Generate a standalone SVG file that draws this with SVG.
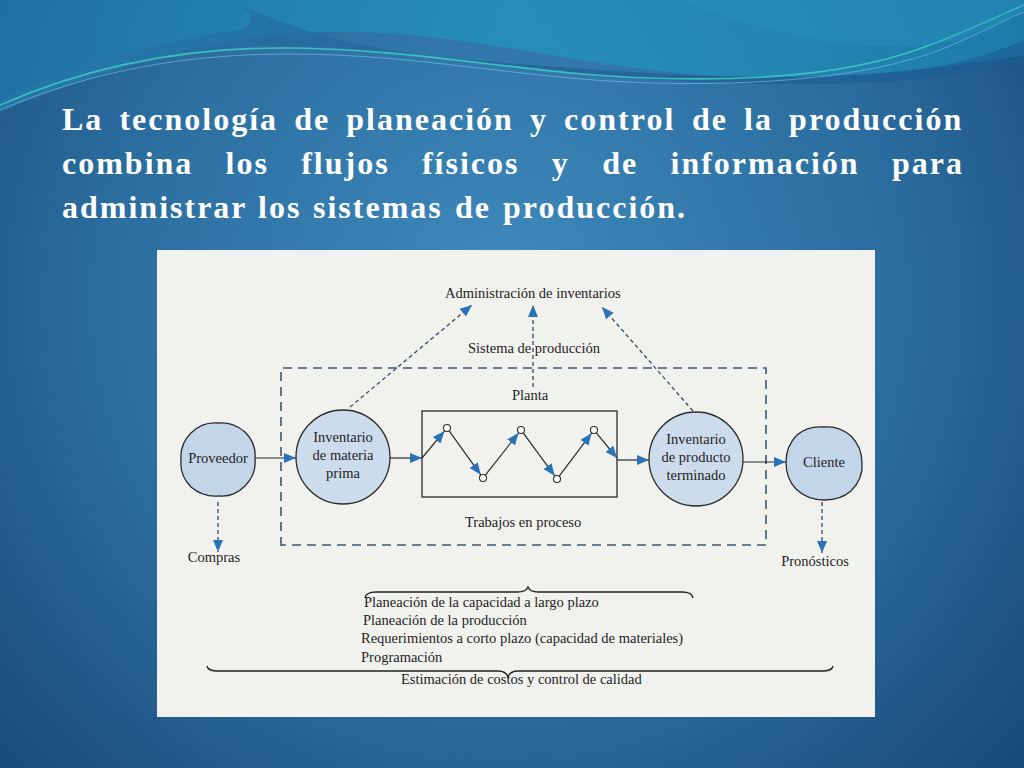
<svg xmlns="http://www.w3.org/2000/svg" width="1024" height="768" viewBox="0 0 1024 768">
<defs>
  <radialGradient id="bg" cx="500" cy="300" r="720" gradientUnits="userSpaceOnUse">
    <stop offset="0" stop-color="#3f8abd"/>
    <stop offset="0.55" stop-color="#2b6d9f"/>
    <stop offset="1" stop-color="#164775"/>
  </radialGradient>
  <linearGradient id="teal" x1="0" y1="0" x2="1" y2="0">
    <stop offset="0" stop-color="#1f78ab"/>
    <stop offset="0.5" stop-color="#2295bd"/>
    <stop offset="1" stop-color="#1f86b3"/>
  </linearGradient>
  <linearGradient id="band" x1="0" y1="0" x2="1" y2="0">
    <stop offset="0" stop-color="#2a79ad"/>
    <stop offset="0.5" stop-color="#1d5d92"/>
    <stop offset="1" stop-color="#1a5d93"/>
  </linearGradient>
  <marker id="ah" markerUnits="userSpaceOnUse" markerWidth="14" markerHeight="12" refX="12" refY="5" orient="auto">
    <path d="M0,0 L12,5 L0,10 Z" fill="#2a73b9"/>
  </marker>
  <style>
    .title{font-family:"Liberation Serif",serif;font-weight:bold;font-size:32px;fill:#ffffff;letter-spacing:2px}
    .t{font-family:"Liberation Serif",serif;font-size:14.5px;fill:#1e1e1e}
    .tc{font-family:"Liberation Serif",serif;font-size:14.5px;fill:#1e1e1e;text-anchor:middle}
    .solid{stroke:#2b2b2b;stroke-width:1.2;fill:none}
    .dash{stroke:#3e5870;stroke-width:1.4;fill:none;stroke-dasharray:4 3}
    .box{stroke:#3e5870;stroke-width:1.6;fill:none;stroke-dasharray:9 6}
    .node{fill:#cddcec;stroke:#2b2b2b;stroke-width:1.3}
    .blob{fill:#c3d5e9;stroke:#2b2b2b;stroke-width:1.3}
    .dot{fill:#ffffff;stroke:#2b2b2b;stroke-width:1.1}
    .brace{stroke:#222;stroke-width:1.3;fill:none}
  </style>
</defs>

<!-- background -->
<rect x="0" y="0" width="1024" height="768" fill="url(#bg)"/>
<path d="M0,0 H1024 V55 C930,70 840,80 720,76 C590,70 460,28 320,32 C200,36 80,80 0,110 Z" fill="url(#teal)" opacity="0.75"/>
<path d="M230,0 C290,30 370,52 470,60 C600,70 760,85 900,72 C960,66 1000,50 1024,40 V60 C960,78 880,86 760,84 C600,82 420,50 300,46 C180,42 80,80 0,112 V100 C90,60 170,38 240,30 C260,20 250,8 230,0 Z" fill="url(#band)" opacity="0.6"/>
<path d="M0,105 C80,70 170,48 280,48 C420,48 520,74 650,78 C770,82 860,72 930,45 C970,30 1000,15 1024,5" stroke="#3fd3c0" stroke-width="1.6" fill="none" opacity="0.8"/>
<path d="M0,110 C90,72 180,54 290,54 C420,54 520,79 650,83 C770,86 870,76 940,50 C975,36 1003,20 1024,12" stroke="#7fc3e6" stroke-width="1" fill="none" opacity="0.6"/>
<path d="M680,0 C760,30 860,60 960,40 C990,32 1010,20 1024,10 V0 Z" fill="#2a95c0" opacity="0.35"/>

<!-- title -->
<text class="title" y="130"><tspan x="62">La</tspan><tspan x="119.4">tecnología</tspan><tspan x="294.2">de</tspan><tspan x="346.3">planeación</tspan><tspan x="530">y</tspan><tspan x="564.1">control</tspan><tspan x="692">de</tspan><tspan x="744.1">la</tspan><tspan x="789.1">producción</tspan></text>
<text class="title" y="174"><tspan x="62">combina</tspan><tspan x="225.6">los</tspan><tspan x="301.2">flujos</tspan><tspan x="421.9">físicos</tspan><tspan x="551.8">y</tspan><tspan x="602.2">de</tspan><tspan x="670.5">información</tspan><tspan x="892">para</tspan></text>
<text class="title" y="218"><tspan x="62">administrar</tspan><tspan x="258">los</tspan><tspan x="313">sistemas</tspan><tspan x="455">de</tspan><tspan x="503">producción.</tspan></text>

<!-- panel -->
<rect x="157" y="250" width="718" height="467" fill="#f1f2ee"/>

<!-- dashed system boundary -->
<path class="box" d="M281,546 V368 H766 V545 H281"/>

<!-- connectors -->
<g id="connectors">
  <line class="solid" x1="255" y1="458" x2="296" y2="458" marker-end="url(#ah)"/>
  <line class="solid" x1="390" y1="458" x2="422" y2="458" marker-end="url(#ah)"/>
  <line class="solid" x1="617" y1="460" x2="649" y2="460" marker-end="url(#ah)"/>
  <line class="solid" x1="743" y1="462" x2="786" y2="462" marker-end="url(#ah)"/>
  <line class="solid" x1="422" y1="458" x2="444.4" y2="431.1" marker-end="url(#ah)"/>
  <line class="solid" x1="449.3" y1="431.2" x2="480.7" y2="474.8" marker-end="url(#ah)"/>
  <line class="solid" x1="485.5" y1="474.9" x2="518.5" y2="433.1" marker-end="url(#ah)"/>
  <line class="solid" x1="523.4" y1="433.2" x2="554.6" y2="475.8" marker-end="url(#ah)"/>
  <line class="solid" x1="559.4" y1="475.8" x2="591.6" y2="433.2" marker-end="url(#ah)"/>
  <line class="solid" x1="596.5" y1="433.1" x2="617" y2="458" marker-end="url(#ah)"/>
  <line class="dash" x1="350" y1="407" x2="472" y2="305" marker-end="url(#ah)"/>
  <line class="dash" x1="533" y1="387" x2="533" y2="305" marker-end="url(#ah)"/>
  <line class="dash" x1="693" y1="411" x2="602" y2="307" marker-end="url(#ah)"/>
  <line class="dash" x1="218" y1="502" x2="218" y2="552" marker-end="url(#ah)"/>
  <line class="dash" x1="822" y1="502" x2="822" y2="553" marker-end="url(#ah)"/>
</g>

<!-- nodes -->
<g id="proveedor">
  <path class="blob" d="M255,459 C256,469 252,479 245,486 C238,493 229,497 219,496 C208,497 198,493 191,487 C184,480 180,470 181,460 C180,449 184,440 191,433 C198,426 208,422 218,423 C229,422 238,426 245,432 C252,439 256,449 255,459 Z"/>
  <text class="tc" x="218" y="463">Proveedor</text>
</g>
<g id="inv-materia">
  <circle class="node" cx="343" cy="457" r="47"/>
  <text class="tc" x="343" y="442">Inventario</text>
  <text class="tc" x="343" y="460">de materia</text>
  <text class="tc" x="343" y="478">prima</text>
</g>
<g id="planta">
  <rect x="422" y="411" width="195" height="86" fill="none" stroke="#2b2b2b" stroke-width="1.3"/>
  <circle class="dot" cx="447" cy="428" r="3.5"/>
  <circle class="dot" cx="483" cy="478" r="3.5"/>
  <circle class="dot" cx="521" cy="430" r="3.5"/>
  <circle class="dot" cx="557" cy="479" r="3.5"/>
  <circle class="dot" cx="594" cy="430" r="3.5"/>
</g>
<g id="inv-producto">
  <circle class="node" cx="696" cy="459" r="47"/>
  <text class="tc" x="696" y="444">Inventario</text>
  <text class="tc" x="696" y="462">de producto</text>
  <text class="tc" x="696" y="480">terminado</text>
</g>
<g id="cliente">
  <path class="blob" d="M862,463 C863,474 858,484 851,491 C844,497 834,500 825,500 C814,500 803,496 796,489 C789,482 786,472 786,462 C786,452 790,442 797,435 C804,429 814,426 824,427 C834,426 844,430 851,436 C858,443 862,453 862,463 Z"/>
  <text class="tc" x="824" y="467">Cliente</text>
</g>

<!-- labels -->
<text class="t" x="445" y="298">Administración de inventarios</text>
<text class="t" x="468" y="353">Sistema de producción</text>
<text class="t" x="512" y="400">Planta</text>
<text class="t" x="465" y="527">Trabajos en proceso</text>
<text class="tc" x="214" y="562">Compras</text>
<text class="tc" x="815" y="566">Pronósticos</text>

<!-- braces and planning list -->
<path class="brace" d="M365,598 Q366,592 376,592 L518,592 Q526,592 528,587 Q530,592 538,592 L682,592 Q692,592 693,598"/>
<text class="t" x="364" y="607">Planeación de la capacidad a largo plazo</text>
<text class="t" x="363" y="625">Planeación de la producción</text>
<text class="t" x="361" y="643">Requerimientos a corto plazo (capacidad de materiales)</text>
<text class="t" x="361" y="662">Programación</text>
<path class="brace" d="M207,666 Q208,671 218,671 L498,671 Q506,671 508,677 Q510,671 518,671 L822,671 Q832,671 833,666"/>
<text class="t" x="401" y="684">Estimación de costos y control de calidad</text>
</svg>
